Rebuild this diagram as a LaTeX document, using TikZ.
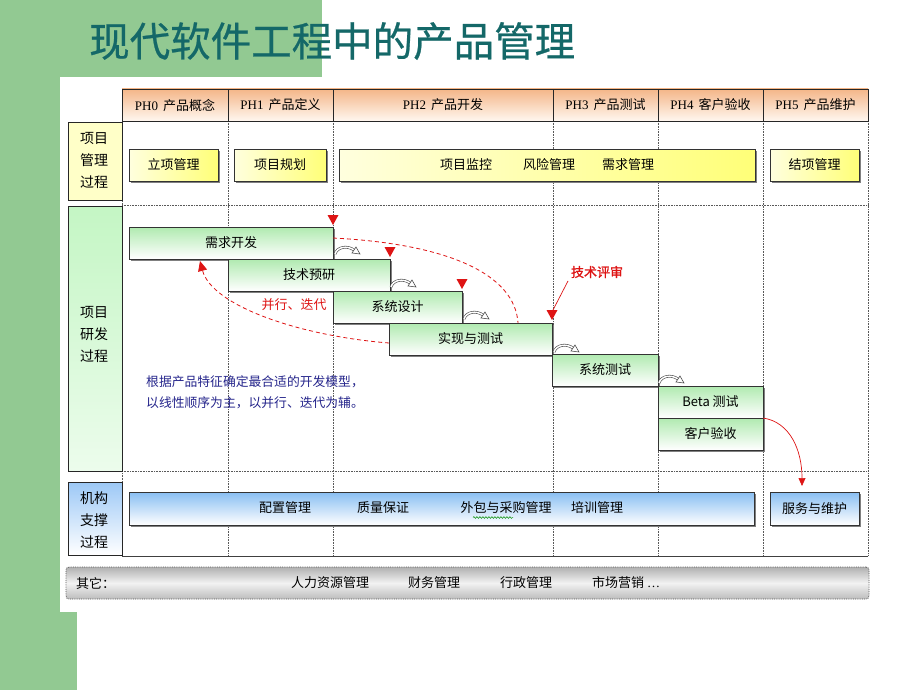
\documentclass[tikz,border=0pt]{standalone}
\usepackage{fontspec}
\setmainfont{Liberation Serif}
\newfontfamily\cjk{Noto Sans CJK SC}
\newfontfamily\cjkb[FakeBold=1.2]{Noto Sans CJK SC}
\newfontfamily\cjkt[FakeBold=0.6]{Noto Sans CJK SC}
\usetikzlibrary{shadows,arrows.meta,fit,decorations.pathmorphing}
\definecolor{bggreen}{RGB}{146,201,146}
\definecolor{titlecol}{RGB}{20,104,104}
\definecolor{hdtop}{RGB}{244,182,136}
\definecolor{hdbot}{RGB}{255,247,240}
\definecolor{redc}{RGB}{222,20,20}
\definecolor{navy}{RGB}{38,38,140}
\definecolor{ylpale}{RGB}{255,255,222}
\definecolor{ylstrong}{RGB}{255,255,120}
\definecolor{grtop}{RGB}{176,234,176}
\definecolor{bltop}{RGB}{136,190,242}
\newcommand{\phsp}{\hspace{5pt}}
\tikzset{
  shad/.style={general shadow={fill=black!50, shadow xshift=2.2pt, shadow yshift=-2.2pt}},
  boxbase/.style={draw=black!80, line width=0.8pt, inner sep=0pt},
  hdr/.style={draw=black!85, line width=0.8pt, inner sep=0pt, top color=hdtop, bottom color=hdbot},
  hdrtxt/.style={inner sep=0pt, font=\fontsize{13}{13}\selectfont},
  ybox/.style={boxbase, shad, left color=ylpale, right color=ylstrong},
  gbox/.style={boxbase, shad, top color=grtop, bottom color=white},
  bbox/.style={boxbase, shad, top color=bltop, bottom color=white},
  lab/.style={draw=black!85, line width=0.8pt, inner sep=0pt},
  labtxt/.style={align=center, inner sep=0pt, font=\cjk\fontsize{14}{22}\selectfont},
  txt/.style={inner sep=0pt, font=\cjk\fontsize{13}{13}\selectfont},
  grid/.style={densely dotted, black!65, line width=0.6pt},
  reddash/.style={redc, dashed, dash pattern=on 4pt off 3pt, line width=0.8pt},
  curly/.pic={
    \draw[black!70, double=white, double distance=1.5pt, line width=0.6pt] (0,0) .. controls (2,-7) and (12,-9) .. (19,-4);
    \filldraw[draw=black!70, fill=white, line width=0.6pt] (25,0) -- (17,-1) -- (21,-7) -- cycle;
  },
  redtri/.pic={\fill[redc] (-5.5,-10) -- (5.5,-10) -- (0,0) -- cycle;}
}
\begin{document}
\begin{tikzpicture}[x=1pt,y=-1pt]
\useasboundingbox (0,0) rectangle (920,690);
\fill[white] (0,0) rectangle (920,690);
\fill[bggreen] (0,0) rectangle (322,77);
\fill[bggreen] (0,77) rectangle (77,690);
\fill[white] (60,77) rectangle (880,612);

% title
\node[anchor=west, inner sep=0pt, font=\cjkt\fontsize{40.5}{40.5}\selectfont, text=titlecol] (title) at (89,41) {现代软件工程中的产品管理};

% grid
\foreach \gx in {122,228,333,553,658,763,868} \draw[grid] (\gx,121) -- (\gx,556);
\draw[grid] (122,205) -- (868,205);
\draw[grid] (122,471) -- (868,471);
\draw[black!75, line width=0.8pt] (122,556) -- (868,556);

% header
\node[hdr, fit={(122,89)(228,121)}] (h0) {};
\node[hdr, fit={(228,89)(333,121)}] (h1) {};
\node[hdr, fit={(333,89)(553,121)}] (h2) {};
\node[hdr, fit={(553,89)(658,121)}] (h3) {};
\node[hdr, fit={(658,89)(763,121)}] (h4) {};
\node[hdr, fit={(763,89)(868,121)}] (h5) {};
\node[hdrtxt] (h0t) at (h0.center) {PH0\phsp{\cjk 产品概念}};
\node[hdrtxt] (h1t) at (h1.center) {PH1\phsp{\cjk 产品定义}};
\node[hdrtxt] (h2t) at (h2.center) {PH2\phsp{\cjk 产品开发}};
\node[hdrtxt] (h3t) at (h3.center) {PH3\phsp{\cjk 产品测试}};
\node[hdrtxt] (h4t) at (h4.center) {PH4\phsp{\cjk 客户验收}};
\node[hdrtxt] (h5t) at (h5.center) {PH5\phsp{\cjk 产品维护}};

% left labels
\node[lab, fill={rgb,255:red,255;green,255;blue,200}, fit={(68,122)(122,200)}] (l1) {};
\node[labtxt] (l1t) at (94,160) {项目\\管理\\过程};
\node[lab, top color={rgb,255:red,196;green,246;blue,196}, bottom color={rgb,255:red,236;green,252;blue,236}, fit={(68,206)(122,471)}] (l2) {};
\node[labtxt] (l2t) at (94,334) {项目\\研发\\过程};
\node[lab, top color={rgb,255:red,156;green,200;blue,246}, bottom color=white, fit={(68,482)(122,555)}] (l3) {};
\node[labtxt] (l3t) at (94,520) {机构\\支撑\\过程};

% row 1
\node[ybox, fit={(129,149)(218,181)}] (lx) {};
\node[txt] (lxt) at (lx.center) {立项管理};
\node[ybox, fit={(234,149)(326,181)}] (gh) {};
\node[txt] (ght) at (gh.center) {项目规划};
\node[ybox, fit={(339,149)(755,181)}] (jk) {};
\node[txt] (jk1) at (466,165) {项目监控};
\node[txt] (jk2) at (549,165) {风险管理};
\node[txt] (jk3) at (628,165) {需求管理};
\node[ybox, fit={(770,149)(859,181)}] (jx) {};
\node[txt] (jxt) at (jx.center) {结项管理};

% row 2 waterfall
\node[gbox, fit={(129,227)(333,259)}] (xq) {};
\node[txt] (xqt) at (xq.center) {需求开发};
\node[gbox, fit={(228,259)(390,291)}] (jy) {};
\node[txt] (jyt) at (jy.center) {技术预研};
\node[gbox, fit={(333,291)(462,323)}] (xs) {};
\node[txt] (xst) at (xs.center) {系统设计};
\node[gbox, fit={(389,323)(552,355)}] (sx) {};
\node[txt] (sxt) at (sx.center) {实现与测试};
\node[gbox, fit={(552,354)(658,386)}] (xc) {};
\node[txt] (xct) at (xc.center) {系统测试};
\node[gbox, fit={(658,386)(763,418)}] (bt) {};
\node[txt] (btt) at (bt.center) {Beta 测试};
\node[gbox, fit={(658,418)(763,450)}] (ky) {};
\node[txt] (kyt) at (ky.center) {客户验收};

% small curled arrows
\pic at (335,254) {curly};
\pic at (391,287) {curly};
\pic at (464,319) {curly};
\pic at (554,352) {curly};
\pic at (659,383) {curly};

% review triangles
\pic at (333,225) {redtri};
\pic at (390,257) {redtri};
\pic at (462,289) {redtri};
\pic at (552,320) {redtri};

% dashed iteration curves
\coordinate (c1a) at (333,238);
\coordinate (c1b) at (518,323);
\draw[reddash] (c1a) .. controls (450,244) and (515,275) .. (c1b);
\coordinate (c2a) at (389,343);
\coordinate (c2b) at (200,261);
\draw[reddash, -{Triangle[length=10pt,width=9pt]}] (c2a) .. controls (300,336) and (212,306) .. (c2b);
\node[txt, text=redc] (bx) at (294,305) {并行、迭代};

% technical review label
\node[inner sep=0pt, font=\cjkb\fontsize{13}{13}\selectfont, text=redc] (ps) at (597,272) {技术评审};
\coordinate (psa) at (568,281);
\coordinate (psb) at (553,310);
\draw[redc, line width=0.7pt] (psa) -- (psb);

% note
\node[anchor=west, align=left, inner sep=0pt, font=\cjk\fontsize{12.8}{21}\selectfont, text=navy] (note) at (146,392.5) {根据产品特征确定最合适的开发模型，\\以线性顺序为主，以并行、迭代为辅。};

% row 3
\node[bbox, fit={(129,492)(754,525)}] (zc) {};
\node[txt] (zc1) at (285,508) {配置管理};
\node[txt] (zc2) at (383,508) {质量保证};
\node[txt] (zc3) at (506,508) {外包与采购管理};
\node[txt] (zc4) at (597,508) {培训管理};
\draw[green!55!black, line width=0.5pt, decorate, decoration={snake, amplitude=0.9pt, segment length=3pt}] (473,517.5) -- (513,517.5);
\node[bbox, fit={(770,492)(859,525)}] (fw) {};
\node[txt] (fwt) at (fw.center) {服务与维护};

% arrow to service
\coordinate (fa) at (763,418);
\coordinate (fb) at (802,486);
\draw[redc, line width=0.7pt, -{Triangle[length=8pt,width=7pt]}] (fa) .. controls (790,422) and (802,450) .. (fb);

% row 4
\node[draw=black!65, densely dotted, line width=0.8pt, rounded corners=3pt, inner sep=0pt,
      top color=gray!62, bottom color=gray!52, middle color=gray!10, fit={(66,567)(869,599)}] (qt) {};
\node[txt, anchor=west] (qt0) at (76,583) {其它：};
\node[txt] (qt1) at (330,583) {人力资源管理};
\node[txt] (qt2) at (434,583) {财务管理};
\node[txt] (qt3) at (526,583) {行政管理};
\node[txt, anchor=west] (qt4) at (592,583) {市场营销 {\rmfamily …}};
\end{tikzpicture}
\end{document}
